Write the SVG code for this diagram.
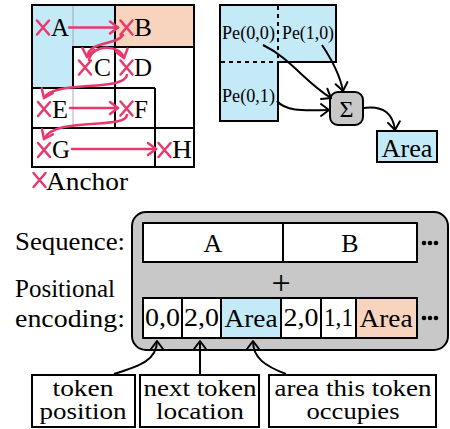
<svg xmlns="http://www.w3.org/2000/svg" width="450" height="429" viewBox="0 0 450 429" font-family="Liberation Serif, Times New Roman, serif">
  <style>
    text { font-family: "Liberation Serif", "Times New Roman", serif; fill: #000; }
    .box { stroke: #000; stroke-width: 2; }
    .blue { fill: #c4eaf8; }
    .orange { fill: #f8d4bf; }
    .white { fill: #fff; }
    .gray { fill: #c8c8c8; }
    .faint { stroke: #9a9a9a; stroke-width: 0.8; fill: none; }
    .cross { stroke: #e9386c; stroke-width: 2.5; stroke-linecap: round; fill: none; }
    .pink { stroke: #e9386c; stroke-width: 2.5; fill: none; stroke-linecap: round; }
    .blk { stroke: #000; stroke-width: 2; fill: none; }
    .dash { stroke: #000; stroke-width: 2; stroke-dasharray: 4 4; fill: none; }
    .g26 { font-size: 26px; }
    .g25 { font-size: 25px; }
    .n22 { font-size: 23px; }
    .c { text-anchor: middle; }
    .r { text-anchor: end; }
  </style>
  <defs>
    <marker id="headPink" viewBox="-11 -8 13 16" refX="0" refY="0" markerWidth="13" markerHeight="16" markerUnits="userSpaceOnUse" orient="auto">
      <path d="M-8,-6 L0,0 L-8,6" fill="none" stroke="#e9386c" stroke-width="2.5" stroke-linecap="round" stroke-linejoin="round"/>
    </marker>
    <marker id="headBlack" viewBox="-11 -8 13 16" refX="0" refY="0" markerWidth="13" markerHeight="16" markerUnits="userSpaceOnUse" orient="auto">
      <path d="M-8,-6 L0,0 L-8,6" fill="none" stroke="#000" stroke-width="2" stroke-linecap="round" stroke-linejoin="round"/>
    </marker>
    <path id="x" d="M-6,-7 L6,7 M-6,7 L6,-7"/>
  </defs>

  <!-- Anchor grid: token cells -->
  <g id="grid">
    <path class="blue" d="M32,5 H115 V47 H73 V88 H32 Z"/>
    <rect class="orange" x="115" y="5" width="79" height="42"/>
    <line class="faint" x1="73" y1="5" x2="73" y2="47"/>
    <line class="faint" x1="73" y1="88" x2="73" y2="128"/>
    <g class="box" fill="none">
      <rect x="32" y="5" width="162" height="162"/>
      <line x1="115" y1="5" x2="115" y2="128"/>
      <polyline points="73,88 73,47 194,47"/>
      <line x1="32" y1="88" x2="155" y2="88"/>
      <line x1="155" y1="88" x2="155" y2="167"/>
      <line x1="32" y1="128" x2="194" y2="128"/>
    </g>
  </g>

  <g id="cellA"><use href="#x" class="cross" x="43" y="27.5"/><text class="g26" x="51" y="36" textLength="18" lengthAdjust="spacingAndGlyphs">A</text></g>
  <g id="cellB"><use href="#x" class="cross" x="126.5" y="27.5"/><text class="g26" x="134" y="36" textLength="18" lengthAdjust="spacingAndGlyphs">B</text></g>
  <g id="cellC"><use href="#x" class="cross" x="85" y="67.5"/><text class="g26" x="94" y="76" textLength="17" lengthAdjust="spacingAndGlyphs">C</text></g>
  <g id="cellD"><use href="#x" class="cross" x="126.5" y="67.5"/><text class="g26" x="134" y="76" textLength="18" lengthAdjust="spacingAndGlyphs">D</text></g>
  <g id="cellE"><use href="#x" class="cross" x="44" y="109"/><text class="g26" x="52" y="118" textLength="16" lengthAdjust="spacingAndGlyphs">E</text></g>
  <g id="cellF"><use href="#x" class="cross" x="126.5" y="108.5"/><text class="g26" x="134" y="118" textLength="14" lengthAdjust="spacingAndGlyphs">F</text></g>
  <g id="cellG"><use href="#x" class="cross" x="44" y="150"/><text class="g26" x="52" y="158" textLength="18" lengthAdjust="spacingAndGlyphs">G</text></g>
  <g id="cellH"><use href="#x" class="cross" x="164.5" y="150"/><text class="g26" x="172" y="158" textLength="20" lengthAdjust="spacingAndGlyphs">H</text></g>

  <g id="legend">
    <use href="#x" class="cross" x="39.5" y="180"/>
    <text class="g25" x="46" y="190" textLength="82" lengthAdjust="spacingAndGlyphs">Anchor</text>
  </g>

  <!-- Positional embedding area -->
  <g id="peRegion">
    <path class="blue box" d="M220,5 H336 V62 H278 V121 H220 Z"/>
    <line class="dash" x1="278" y1="6" x2="278" y2="62"/>
    <line class="dash" x1="221" y1="62" x2="278" y2="62"/>
    <text x="222" y="39" font-size="18" textLength="53" lengthAdjust="spacingAndGlyphs">Pe(0,0)</text>
    <text x="282" y="39" font-size="18" textLength="52" lengthAdjust="spacingAndGlyphs">Pe(1,0)</text>
    <text x="222" y="102" font-size="18" textLength="53" lengthAdjust="spacingAndGlyphs">Pe(0,1)</text>
  </g>

  <g id="sum">
    <rect class="gray box" x="330" y="92" width="33" height="33" rx="8"/>
    <text class="c" x="346.5" y="117" font-size="24">Σ</text>
  </g>

  <g id="areaOut">
    <rect class="blue box" x="377" y="131" width="60" height="31"/>
    <text class="c" x="407" y="157" font-size="25" textLength="51" lengthAdjust="spacingAndGlyphs">Area</text>
  </g>

  <!-- Token sequence with positional encoding -->
  <g id="tokenPanel">
    <rect class="gray box" x="132" y="212" width="316" height="138" rx="14"/>
    <rect class="white box" x="143" y="223" width="274" height="39"/>
    <line class="box" x1="283" y1="223" x2="283" y2="262"/>
    <text class="g26 c" x="213" y="252">A</text>
    <text class="g26 c" x="350" y="252">B</text>
    <g fill="#000">
      <circle cx="424" cy="243" r="2.3"/><circle cx="430" cy="243" r="2.3"/><circle cx="436" cy="243" r="2.3"/>
      <circle cx="424" cy="318" r="2.3"/><circle cx="430" cy="318" r="2.3"/><circle cx="436" cy="318" r="2.3"/>
    </g>
    <text class="c" x="281" y="294" font-size="34">+</text>

    <rect class="white box" x="143" y="298" width="39" height="40"/>
    <rect class="white box" x="182" y="298" width="39" height="40"/>
    <rect class="blue box" x="221" y="298" width="60" height="40"/>
    <rect class="white box" x="281" y="298" width="40" height="40"/>
    <rect class="white box" x="321" y="298" width="35" height="40"/>
    <rect class="orange box" x="356" y="298" width="61" height="40"/>
    <text class="g25 c" x="162.5" y="326" textLength="35" lengthAdjust="spacingAndGlyphs">0,0</text>
    <text class="g25 c" x="201.5" y="326" textLength="35" lengthAdjust="spacingAndGlyphs">2,0</text>
    <text class="g25 c" x="251" y="327" textLength="53" lengthAdjust="spacingAndGlyphs">Area</text>
    <text class="g25 c" x="301" y="326" textLength="35" lengthAdjust="spacingAndGlyphs">2,0</text>
    <text class="g25 c" x="338.5" y="326" textLength="29" lengthAdjust="spacingAndGlyphs">1,1</text>
    <text class="g25 c" x="386" y="327" textLength="53" lengthAdjust="spacingAndGlyphs">Area</text>
  </g>

  <g id="rowLabels">
    <text class="g25 r" x="125" y="250" textLength="110" lengthAdjust="spacingAndGlyphs">Sequence:</text>
    <text class="g25" x="15" y="297" textLength="100" lengthAdjust="spacingAndGlyphs">Positional</text>
    <text class="g25 r" x="125" y="327" textLength="110" lengthAdjust="spacingAndGlyphs">encoding:</text>
  </g>

  <g id="noteTokenPosition">
    <rect class="white box" x="32" y="375" width="103" height="52"/>
    <text class="n22 c" x="83" y="396" textLength="61" lengthAdjust="spacingAndGlyphs">token</text>
    <text class="n22 c" x="83" y="419" textLength="87" lengthAdjust="spacingAndGlyphs">position</text>
  </g>
  <g id="noteNextLocation">
    <rect class="white box" x="140" y="375" width="119" height="52"/>
    <text class="n22 c" x="200" y="396" textLength="113" lengthAdjust="spacingAndGlyphs">next token</text>
    <text class="n22 c" x="200" y="419" textLength="88" lengthAdjust="spacingAndGlyphs">location</text>
  </g>
  <g id="noteArea">
    <rect class="white box" x="269" y="375" width="167" height="52"/>
    <text class="n22 c" x="353" y="396" textLength="157" lengthAdjust="spacingAndGlyphs">area this token</text>
    <text class="n22 c" x="353" y="419" textLength="93" lengthAdjust="spacingAndGlyphs">occupies</text>
  </g>

  <!-- Connectors -->
  <g id="connectors">
    <g class="pink">
      <path d="M69,27.5 L118,27.5" marker-end="url(#headPink)"/>
      <path d="M123,35 C116,46 90,40 87,57" marker-end="url(#headPink)"/>
      <path d="M89,60 C92,44 120,44 124,58" marker-end="url(#headPink)"/>
      <path d="M127,75 C124,92 52,80 44,98" marker-end="url(#headPink)"/>
      <path d="M70,108 L118,108" marker-end="url(#headPink)"/>
      <path d="M127,115 C125,130 55,116 44,139" marker-end="url(#headPink)"/>
      <path d="M72,149 L156,149" marker-end="url(#headPink)"/>
    </g>
    <g class="blk">
      <path d="M263,45 C290,58 305,82 331,98" marker-end="url(#headBlack)"/>
      <path d="M322,45 C332,60 340,75 343,91" marker-end="url(#headBlack)"/>
      <path d="M277,101 C287,113 310,110 329,110" marker-end="url(#headBlack)"/>
      <path d="M363,108 C385,105 393,115 395,130" marker-end="url(#headBlack)"/>
      <path d="M114,374 C140,366 157,360 157,341" marker-end="url(#headBlack)"/>
      <path d="M200,374 L200,341" marker-end="url(#headBlack)"/>
      <path d="M286,374 C265,366 253,358 253,341" marker-end="url(#headBlack)"/>
    </g>
  </g>
</svg>
